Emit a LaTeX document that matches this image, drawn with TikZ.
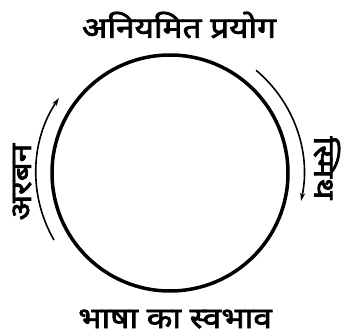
\documentclass[tikz,border=0pt]{standalone}
\usepackage{fontspec}
\newfontfamily\devfont[Script=Devanagari, FakeBold=2.5, FakeStretch=1.15]{Noto Sans}
\usetikzlibrary{arrows.meta,positioning}

\begin{document}
\begin{tikzpicture}[x=1pt, y=1pt, >=Stealth]

\tikzset{
    dev_label/.style = {font=\devfont\fontsize{29}{31}\selectfont, inner sep=0pt},
    cycle_node/.style = {circle, draw=black, line width=3.5pt, minimum size=236pt, inner sep=0pt},
    flow_arrow/.style = {line width=1.6pt, -{Stealth[length=8pt, width=5pt]}},
}

\useasboundingbox (0,0) rectangle (343,335);

% =========== CIRCLE ===========
\node[cycle_node] (cycle) at (170,162) {};

% =========== LABELS ===========
\node[dev_label] (usage) at (179,310) {अनियमित प्रयोग};
\node[dev_label, anchor=base, text depth=0pt] (nature) at (175,7) {भाषा का स्वभाव};
\node[dev_label, rotate=90] (urban) at (22,153) {अरबन};
\node[dev_label, rotate=-90] (smith) at (327,167) {स्मिथ};

% =========== ARROWS ===========
\draw[flow_arrow] ([shift={(210:134)}]cycle.center) arc[start angle=210, end angle=146, radius=134];
\draw[flow_arrow] ([shift={(50:134)}]cycle.center) arc[start angle=50, end angle=-12, radius=134];

\end{tikzpicture}
\end{document}
